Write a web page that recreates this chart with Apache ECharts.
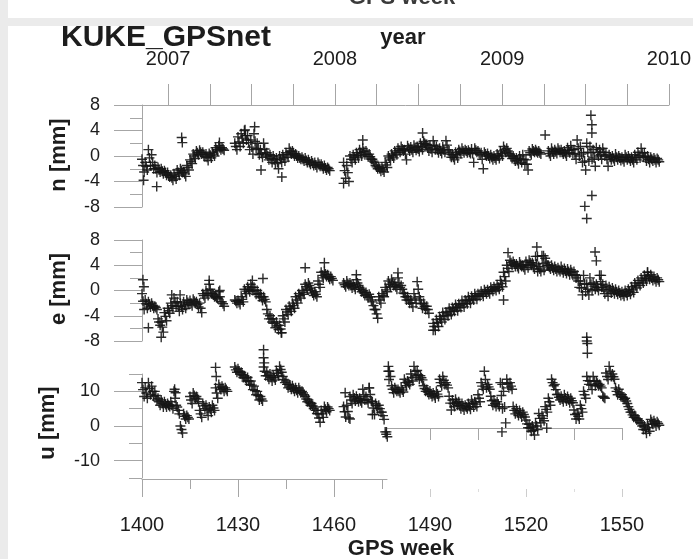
<!DOCTYPE html>
<html>
<head>
<meta charset="utf-8">
<script src="https://cdn.jsdelivr.net/npm/echarts@6/dist/echarts.min.js"></script>
<style>
  html, body { margin: 0; padding: 0; background: #ebebeb; }
  #chart { width: 693px; height: 559px; }
</style>
</head>
<body>
<div id="chart"></div>
<script>
// Station KUKE, GPSnet solution: coordinate residuals (mm), three samples per GPS week
const firstWeek = 1400;

// tick labels
const weekLabels = [1400, 1430, 1460, 1490, 1520, 1550];
const yearLabels = ['2007', '2008', '2009', '2010'];
const yearWeeks = [1408.14, 1460.29, 1512.57, 1564.71];   // GPS week at 1 January

// north component, week 1400 .. 1561 (first, middle and last sample of each week)
const nA = [
  -0.5,-1.0,1.0,0.2,-1.5,-1.8,-2.0,-2.3,-2.6,-3.0,
  -2.8,-2.2,-2.0,-2.5,-1.5,-0.6,0.3,0.8,0.9,0.6,
  0.3,0.4,0.6,1.3,1.6,1.3,null,null,null,2.0,
  3.0,3.5,4.0,3.2,2.5,3.5,2.0,1.0,2.0,0.5,
  0.2,0.0,-0.3,0.0,0.2,0.5,1.2,0.8,0.3,0.0,
  -0.2,-0.3,-0.6,-0.8,-1.0,-1.0,-1.3,-1.5,-1.8,null,
  null,null,null,-1.0,-1.5,0.0,0.2,0.5,1.0,1.2,
  0.8,0.3,-0.5,-1.5,-1.7,-1.8,-1.0,0.0,0.3,0.8,
  1.2,1.5,1.0,1.6,1.4,1.7,1.5,2.0,2.3,1.8,
  1.6,2.4,1.5,1.2,1.4,2.4,0.8,0.2,0.6,1.0,
  1.2,1.0,0.9,1.1,1.2,0.8,0.5,0.6,0.4,0.2,
  0.0,0.3,0.8,1.5,1.2,0.3,0.0,-0.3,0.0,0.2,
  -0.6,0.8,1.1,1.0,0.8,null,3.3,0.8,1.2,1.0,
  1.2,1.0,0.8,1.3,1.6,1.0,2.5,1.5,0.5,2.0,
  1.5,1.0,1.3,1.0,1.2,0.5,0.2,0.0,0.3,0.0,
  -0.2,0.2,0.0,-0.2,0.2,0.6,1.2,0.5,0.0,-0.2,
  -0.3,-0.4
];
const nC = [
  -1.5,-1.6,-0.3,-1.0,-2.0,-2.1,-2.4,-2.6,-3.0,-3.4,
  -3.2,-2.6,-2.3,-2.8,-1.8,-0.9,0.0,0.5,0.6,0.2,
  -0.2,0.1,0.3,1.0,1.3,1.1,null,null,null,1.5,
  2.2,2.8,3.2,2.1,1.4,2.3,1.1,0.4,1.1,0.0,
  -0.4,-0.6,-1.0,-0.5,-0.3,0.2,0.7,0.4,0.0,-0.3,
  -0.5,-0.7,-1.0,-1.1,-1.4,-1.3,-1.6,-1.9,-2.0,null,
  null,null,null,-2.3,-2.6,-0.5,-0.2,0.1,0.5,0.7,
  0.3,-0.1,-0.8,-1.7,-2.0,-2.2,-1.4,-0.3,0.0,0.5,
  0.9,1.1,0.3,1.2,1.0,1.3,1.1,1.5,2.0,1.3,
  1.1,1.7,1.0,0.8,1.0,1.7,0.3,-0.2,0.2,0.7,
  0.8,0.8,0.6,0.4,0.9,0.5,-0.5,0.3,0.0,-0.2,
  -0.3,0.0,0.4,1.0,0.8,0.0,-0.4,-0.7,-0.5,-0.5,
  -1.3,0.5,0.8,0.7,0.5,null,null,0.4,0.7,0.7,
  0.9,0.6,0.4,0.9,1.0,0.3,1.2,0.3,-0.8,0.6,
  0.5,-0.3,0.6,0.2,0.6,-0.5,-0.2,-0.4,-0.2,-0.3,
  -0.5,-0.2,-0.4,-0.6,-0.2,0.1,0.5,-0.1,-0.5,-0.5,
  -0.6,-0.6
];
const nB = [
  -2.5,-2.2,-1.5,-2.0,-2.6,-2.5,-2.8,-3.0,-3.3,-3.8,
  -3.6,-3.0,-2.6,-3.2,-2.2,-1.2,-0.4,0.2,0.3,-0.1,
  -0.7,-0.3,0.0,0.8,1.0,0.9,null,null,null,1.0,
  1.5,2.0,2.5,1.0,0.3,1.2,0.2,-0.2,0.3,-0.6,
  -1.0,-1.2,-2.0,-1.0,-0.8,-0.2,0.3,0.0,-0.3,-0.5,
  -0.8,-1.0,-1.3,-1.5,-1.8,-1.6,-2.0,-2.2,-2.3,null,
  null,null,null,-3.5,-4.0,-1.0,-0.6,-0.3,0.0,0.2,
  -0.1,-0.5,-1.0,-2.0,-2.4,-2.5,-1.8,-0.6,-0.3,0.2,
  0.6,0.8,-0.6,0.8,0.6,0.9,0.7,1.0,1.8,0.8,
  0.6,1.0,0.5,0.4,0.6,1.0,-0.2,-0.6,-0.3,0.4,
  0.5,0.5,0.4,-1.0,0.6,0.2,-2.0,0.0,-0.4,-0.6,
  -0.6,-0.4,0.0,0.6,0.4,-0.4,-0.8,-1.2,-1.0,-1.3,
  -2.2,0.2,0.6,0.5,0.3,null,null,0.0,0.3,0.4,
  0.6,0.3,0.0,0.5,0.4,-0.5,0.0,-1.0,-2.2,-0.8,
  -0.5,-1.6,0.0,-0.5,0.0,-1.6,-0.6,-0.8,-0.6,-0.7,
  -0.9,-0.6,-0.8,-1.0,-0.6,-0.3,-0.2,-0.8,-1.0,-0.8,
  -1.0,-0.9
];
const nExtra = [
  [1400.5,-3.8],[1404.6,-4.8],[1412.4,2.9],[1412.6,2.1],[1424.2,2.1],[1432.2,4.1],
  [1435.2,4.6],[1437.2,-2.2],[1443.7,-3.3],[1463,-4.3],[1469,2.5],[1487.7,3.6],
  [1540.3,6.4],[1540.6,4.9],[1540.6,3.6],[1538.4,-7.9],[1539,-9.8],[1540.6,-6.2]
];

// east component
const eA = [
  -0.5,-1.5,-1.8,-2.0,-2.5,-4.5,-5.0,-3.5,-2.8,-2.0,
  -1.2,-1.8,-2.0,-1.8,-1.5,-1.6,-1.4,-1.8,-2.0,-0.5,
  0.0,1.0,-0.5,-0.9,-0.2,-1.8,null,null,null,-1.5,
  -1.6,-1.0,0.2,0.6,1.0,0.5,0.0,-0.5,-1.0,-3.0,
  -4.0,-4.5,-5.0,-5.5,-4.0,-3.0,-2.5,-2.0,-1.0,-0.5,
  0.0,1.0,1.2,0.0,-0.2,1.5,2.9,3.0,2.5,2.2,
  null,null,null,1.2,1.5,1.2,1.0,1.7,0.5,0.0,
  -0.3,-0.6,-1.8,-3.0,-1.0,-0.5,0.5,1.5,1.8,1.0,
  2.0,0.8,-0.5,-1.0,-1.5,-0.5,1.4,-1.5,-2.0,-2.5,
  null,-5.2,-4.6,-4.1,-3.5,-3.4,-2.8,-2.7,-2.2,-2.1,
  -1.6,-1.5,-1.0,-0.9,-0.5,-0.5,-0.1,0.1,0.1,0.5,
  0.6,0.9,1.6,2.9,4.0,4.8,4.6,4.2,4.5,4.0,
  4.6,4.8,4.4,5.4,3.8,5.5,5.1,4.0,4.0,3.8,
  3.6,3.8,3.5,3.4,3.3,3.0,2.4,1.5,2.4,1.0,
  2.0,1.2,1.0,2.4,1.0,0.8,0.6,0.4,0.2,0.0,
  -0.2,0.0,0.2,0.6,1.2,1.6,2.0,2.4,2.9,2.5,
  2.2,2.0
];
const eC = [
  -1.7,-2.1,-2.2,-2.4,-2.7,-5.0,-5.8,-4.1,-3.2,-2.4,
  -1.8,-2.5,-2.5,-2.3,-1.9,-2.0,-1.7,-2.2,-2.8,-0.8,
  -0.4,0.2,-0.7,-1.1,-1.0,-2.1,null,null,null,-1.7,
  -1.9,-1.4,-0.1,0.2,0.5,0.0,-0.5,-1.0,-1.4,-3.7,
  -4.5,-5.2,-5.6,-6.1,-4.5,-3.4,-2.9,-2.4,-1.5,-0.8,
  -0.3,0.6,0.8,-0.4,-0.6,1.0,2.4,2.6,2.1,1.9,
  null,null,null,0.9,1.1,0.8,0.6,1.2,0.2,-0.4,
  -0.7,-1.0,-2.4,-3.7,-1.5,-0.8,0.1,1.0,1.3,0.6,
  1.2,0.2,-1.0,-1.5,-2.0,-1.2,0.2,-2.1,-2.5,-3.0,
  null,-5.7,-5.1,-4.5,-4.0,-3.7,-3.3,-3.0,-2.7,-2.4,
  -2.1,-1.8,-1.5,-1.2,-0.9,-0.7,-0.5,-0.2,-0.2,0.2,
  0.3,0.5,1.1,2.2,3.5,4.4,4.2,3.8,4.1,3.7,
  4.1,4.4,3.9,4.2,3.4,4.3,4.5,3.7,3.6,3.4,
  3.3,3.3,3.1,3.0,2.9,2.5,1.5,0.4,1.1,0.2,
  1.0,0.7,0.5,1.4,0.2,-0.1,0.1,0.0,-0.2,-0.4,
  -0.6,-0.4,-0.2,0.1,0.8,1.2,1.6,1.9,2.3,2.0,
  1.8,1.7
];
const eB = [
  -3.0,-2.8,-2.6,-2.8,-3.0,-5.5,-6.6,-4.8,-3.6,-2.8,
  -2.5,-3.3,-3.0,-2.8,-2.2,-2.4,-2.0,-2.6,-3.5,-1.2,
  -0.8,-0.5,-1.0,-1.3,-1.8,-2.5,null,null,null,-2.0,
  -2.2,-1.8,-0.5,-0.2,0.0,-0.6,-1.0,-1.6,-1.8,-4.5,
  -5.0,-5.9,-6.2,-6.7,-5.0,-3.8,-3.3,-2.8,-2.0,-1.2,
  -0.6,0.2,0.4,-0.8,-1.0,0.5,2.0,2.2,1.8,1.6,
  null,null,null,0.6,0.8,0.4,0.2,0.8,-0.2,-0.8,
  -1.1,-1.5,-3.0,-4.4,-2.0,-1.0,-0.2,0.6,0.8,0.2,
  0.5,-0.4,-1.5,-2.0,-2.6,-2.0,-1.0,-2.8,-3.0,-3.6,
  null,-6.3,-5.7,-5.0,-4.6,-4.0,-3.8,-3.3,-3.2,-2.7,
  -2.6,-2.1,-2.0,-1.5,-1.4,-0.9,-0.9,-0.5,-0.5,-0.1,
  0.0,0.2,0.6,1.5,3.0,4.0,3.8,3.5,3.8,3.3,
  3.6,4.0,3.4,3.0,3.0,3.2,4.0,3.4,3.2,3.0,
  3.0,2.8,2.7,2.5,2.4,2.0,0.5,-0.7,-0.2,-0.7,
  0.0,0.2,0.0,0.5,-0.5,-0.9,-0.4,-0.5,-0.6,-0.8,
  -0.9,-0.8,-0.6,-0.3,0.4,0.8,1.2,1.5,1.8,1.6,
  1.4,1.4
];
const eExtra = [
  [1400.3,1.7],[1400.6,0.6],[1402,-5.9],[1406,-7.4],[1409.3,-0.7],[1411.9,-0.7],
  [1421,1.6],[1424.3,0.0],[1434.5,1.6],[1437.8,1.9],[1443.5,-6.7],[1451,3.6],
  [1457,4.4],[1467,2.5],[1480,2.8],[1491,-6.3],[1513,-1.5],[1514.4,6.0],
  [1523.4,6.9],[1523.6,5.4],[1525.5,5.5],[1541.6,6.1],[1542,4.7],[1543.5,2.4],
  [1539,-7.4],[1539.2,-8.4],[1558,2.9]
];

// up component
const uA = [
  12.5,11.0,12.5,11.5,10.0,8.0,7.5,7.0,6.5,7.0,
  10.0,5.5,0.0,3.5,3.0,8.5,9.5,8.5,4.5,6.5,
  6.0,5.5,6.0,11.0,12.0,11.5,11.0,null,null,17.0,
  16.5,15.5,14.5,14.0,13.0,11.5,10.0,8.5,17.0,15.5,
  15.0,14.5,16.0,17.2,14.3,13.0,12.0,11.6,11.0,11.0,
  10.0,8.6,7.5,6.5,5.5,3.5,4.5,5.6,5.5,null,
  null,null,null,5.6,6.0,8.5,9.0,8.6,8.0,10.6,
  8.5,11.0,7.0,6.5,6.0,4.0,-1.7,17.2,11.6,11.0,
  10.5,11.0,13.5,13.0,15.0,17.2,16.0,14.5,11.6,10.5,
  10.1,9.5,10.0,13.5,14.3,12.5,8.6,7.5,7.7,7.0,
  6.5,6.0,6.5,7.5,7.0,9.0,12.5,15.8,12.0,8.6,
  7.5,7.0,12.5,10.0,13.5,12.5,5.6,5.0,4.5,4.0,
  1.7,0.5,0.0,0.9,3.6,3.0,5.6,8.0,13.5,12.0,
  9.1,8.6,9.0,8.5,8.0,4.6,3.6,6.0,10.0,14.3,
  13.0,14.3,13.0,12.0,8.6,15.3,17.2,15.0,11.0,10.6,
  9.0,8.0,5.6,4.0,3.0,2.0,0.9,0.0,0.5,1.9,
  1.5,1.2
];
const uC = [
  10.5,9.5,10.8,10.0,8.8,7.0,6.5,6.2,6.0,6.0,
  8.0,4.5,-1.0,2.8,2.5,7.5,8.8,7.8,3.5,5.8,
  4.5,4.8,5.2,9.5,11.2,10.8,10.5,null,null,16.2,
  15.8,14.8,13.8,13.0,11.8,10.2,8.8,7.8,15.8,14.5,
  14.0,13.9,15.2,16.3,13.4,12.0,11.3,10.8,10.3,10.3,
  9.5,7.8,6.8,5.8,4.5,2.3,3.5,4.8,5.0,null,
  null,null,null,4.1,4.2,7.5,8.1,7.8,7.3,9.0,
  7.6,9.1,5.2,5.8,5.0,3.0,-2.4,15.8,10.6,10.5,
  10.0,10.4,12.5,12.5,14.0,15.8,14.8,13.9,10.8,9.8,
  9.3,8.8,9.2,12.5,13.2,11.8,6.6,6.5,6.8,6.0,
  5.5,5.5,5.6,6.5,6.3,8.0,11.5,13.4,11.3,7.3,
  6.5,6.3,8.8,5.5,12.2,11.5,4.5,4.0,3.5,3.3,
  0.6,-0.5,-1.3,0.0,2.2,2.2,4.8,7.0,12.5,10.5,
  8.3,7.8,8.1,7.6,7.3,3.3,2.8,5.0,9.0,13.1,
  11.8,13.0,12.3,11.5,8.3,14.3,15.8,14.2,10.0,9.5,
  8.3,7.2,4.8,3.2,2.3,1.5,0.0,-1.0,-0.5,1.2,
  0.8,0.7
];
const uB = [
  8.5,8.0,9.0,8.5,7.5,6.0,5.5,5.5,5.6,5.0,
  6.0,3.5,-2.0,2.0,2.0,6.5,8.0,7.0,2.5,5.0,
  3.0,4.0,4.5,8.0,10.5,10.0,10.0,null,null,15.5,
  15.0,14.0,13.0,12.0,10.5,9.0,7.5,7.2,14.5,13.5,
  13.0,13.3,14.5,15.5,12.5,11.0,10.6,10.0,9.6,9.6,
  9.0,7.0,6.0,5.0,3.6,1.1,2.5,4.1,4.5,null,
  null,null,null,2.6,2.3,6.5,7.2,7.0,6.7,7.5,
  6.7,7.2,3.3,5.0,4.0,1.9,-3.1,14.3,9.6,10.0,
  9.6,9.8,11.6,12.0,13.0,14.5,13.5,13.3,10.0,9.1,
  8.5,8.1,8.5,11.6,12.0,11.0,4.6,5.6,6.0,5.0,
  4.6,5.0,4.8,5.5,5.6,7.0,10.6,11.0,10.6,6.0,
  5.6,5.6,5.0,0.9,11.0,10.6,3.5,3.0,2.6,2.6,
  -0.5,-1.5,-2.6,-1.0,0.9,1.5,4.0,6.0,11.6,9.1,
  7.5,7.0,7.2,6.7,6.7,2.0,2.0,4.0,8.0,12.0,
  10.5,11.6,11.6,11.0,8.0,13.4,14.3,13.5,9.0,8.5,
  7.7,6.5,4.0,2.5,1.7,0.9,-1.0,-2.1,-1.5,0.5,
  0.0,0.2
];
const uExtra = [
  [1410.2,10.6],[1410.5,9.6],[1423,16.9],[1423.2,14.3],[1438,22.0],[1438,19.7],
  [1438.2,18.2],[1463.5,9.6],[1465,2.0],[1471,11.0],[1472,3.3],[1476.4,-1.7],
  [1477,15.8],[1477.2,13.4],[1512.5,-1.7],[1512.6,12.0],[1526.5,-0.6],
  [1539,24.5],[1539.2,21.0]
];

// ---- helpers -------------------------------------------------------------
function toPoints(valsA, valsC, valsB, extra) {
  const pts = [];
  valsA.forEach((v, i) => { if (v !== null) pts.push([firstWeek + i, v]); });
  valsC.forEach((v, i) => { if (v !== null) pts.push([firstWeek + i + 0.33, v]); });
  valsB.forEach((v, i) => { if (v !== null) pts.push([firstWeek + i + 0.67, v]); });
  return pts.concat(extra);
}
// quarter-year tick positions along the year axis
const quarterWeeks = [];
for (let i = 0; i < yearWeeks.length - 1; i++) {
  const a = yearWeeks[i], b = yearWeeks[i + 1];
  for (let k = 0; k < 4; k++) quarterWeeks.push(a + k * (b - a) / 4);
}
quarterWeeks.push(yearWeeks[yearWeeks.length - 1]);

const FONT = '"Liberation Sans", Arial, Helvetica, sans-serif';
const GREY = '#a6a6a6';
const INK = '#1d1d1d';
const X_MIN = firstWeek;
const X_MAX = yearWeeks[yearWeeks.length - 1];
const PLUS = 'path://M5,0L5,10M0,5L10,5';

function grid(g) { return Object.assign({ containLabel: false, outerBoundsMode: 'none' }, g); }
function hiddenX(gi) { return { type: 'value', gridIndex: gi, min: X_MIN, max: X_MAX, show: false }; }
function hiddenY(gi) { return { type: 'value', gridIndex: gi, min: 0, max: 1, show: false }; }
function tickAxis(gi, min, max, ticks, len, color, showLine) {
  return {
    type: 'value', gridIndex: gi, position: 'bottom', min: min, max: max,
    axisLine: { show: showLine, lineStyle: { color: GREY, width: 1 } },
    axisTick: { show: true, inside: false, length: len, customValues: ticks, lineStyle: { color: color, width: 1 } },
    axisLabel: { show: false }, splitLine: { show: false }
  };
}
function mmAxis(gi, min, max, step) {
  return {
    type: 'value', gridIndex: gi, position: 'left', min: min, max: max, interval: step,
    axisLine: { show: true, lineStyle: { color: GREY, width: 1 } },
    axisTick: { show: true, inside: false, length: 28, lineStyle: { color: GREY, width: 1 } },
    minorTick: { show: true, splitNumber: 2, length: 12, lineStyle: { color: GREY, width: 1 } },
    axisLabel: { margin: 42, fontSize: 18, color: INK, fontFamily: FONT },
    splitLine: { show: false }, minorSplitLine: { show: false }
  };
}
function plusSeries(xi, yi, data) {
  return {
    type: 'scatter', xAxisIndex: xi, yAxisIndex: yi, data: data, clip: false,
    symbol: PLUS, symbolSize: 10, silent: true,
    itemStyle: { color: 'none', borderColor: '#151515', borderWidth: 1.4, opacity: 0.9 }
  };
}
function label(text, x, y, size, rot, fill) {
  return {
    type: 'text', x: x, y: y, rotation: rot || 0, silent: true, z: 10,
    style: { text: text, fill: fill || INK, font: 'bold ' + size + 'px ' + FONT, align: 'center', verticalAlign: 'middle' }
  };
}

const chart = echarts.init(document.getElementById('chart'), null, { renderer: 'canvas' });
chart.setOption({
  animation: false,
  backgroundColor: '#ebebeb',
  grid: [
    grid({ left: 142, right: 24, top: 105, height: 102 }),   // 0: n
    grid({ left: 142, right: 24, top: 240, height: 101 }),   // 1: e
    grid({ left: 142, right: 24, top: 374, height: 104 }),   // 2: u
    grid({ left: 387, width: 235, top: 374, height: 54 }),   // 3: inner time line of the u panel
    grid({ left: 142, width: 245, top: 374, height: 105 }),  // 4: lower time axis, first part
    grid({ left: 142, right: 24, top: 374, height: 115 }),   // 5: faint ticks, second part
    grid({ left: 142, right: 24, top: 374, height: 104 })    // 6: long ticks of the u scale
  ],
  xAxis: [
    hiddenX(0),
    {
      type: 'value', gridIndex: 0, position: 'top', min: X_MIN, max: X_MAX,
      axisLine: { show: true, lineStyle: { color: GREY, width: 1 } },
      axisTick: { show: true, inside: false, length: 21, customValues: quarterWeeks, lineStyle: { color: GREY, width: 1 } },
      axisLabel: {
        show: true, customValues: yearWeeks, margin: 36, fontSize: 20, color: INK, fontFamily: FONT,
        formatter: function (v) {
          let best = 0;
          yearWeeks.forEach((w, i) => { if (Math.abs(w - v) < Math.abs(yearWeeks[best] - v)) best = i; });
          return yearLabels[best];
        }
      },
      splitLine: { show: false }
    },
    hiddenX(1),
    {
      type: 'value', gridIndex: 2, position: 'bottom', min: X_MIN, max: X_MAX,
      axisLine: { show: false }, axisTick: { show: false },
      axisLabel: {
        show: true, customValues: weekLabels, margin: 37, fontSize: 20, color: INK, fontFamily: FONT,
        formatter: function (v) { return String(Math.round(v)); }
      },
      splitLine: { show: false }
    },
    tickAxis(3, 1476.5, 1550, [1490, 1505, 1520, 1535, 1550], 12, GREY, true),
    tickAxis(4, 1400, 1476.5, [1400, 1430, 1460], 18, GREY, true),
    tickAxis(4, 1400, 1476.5, [1415, 1445, 1475], 10, GREY, false),
    tickAxis(5, X_MIN, X_MAX, [1490, 1520, 1550], 8, '#cdcdcd', false),
    tickAxis(5, X_MIN, X_MAX, [1505, 1535], 3, '#dddddd', false),
    hiddenX(6)
  ],
  yAxis: [
    mmAxis(0, -8, 8, 4),
    mmAxis(1, -8, 8, 4),
    {
      // short ticks every 5 mm, labels every 10 mm
      type: 'value', gridIndex: 2, position: 'left', min: -15, max: 15, interval: 5,
      axisLine: { show: true, lineStyle: { color: GREY, width: 1 } },
      axisTick: { show: true, inside: false, length: 13, lineStyle: { color: GREY, width: 1 } },
      axisLabel: { customValues: [-10, 0, 10], margin: 42, fontSize: 18, color: INK, fontFamily: FONT },
      splitLine: { show: false }
    },
    hiddenY(3), hiddenY(4), hiddenY(5),
    {
      type: 'value', gridIndex: 6, position: 'left', min: -15, max: 15, interval: 5,
      axisLine: { show: false },
      axisTick: { show: true, inside: false, length: 28, customValues: [-10, 0, 10], lineStyle: { color: GREY, width: 1 } },
      axisLabel: { show: false }, splitLine: { show: false }
    }
  ],
  series: [
    plusSeries(0, 0, toPoints(nA, nC, nB, nExtra)),
    plusSeries(2, 1, toPoints(eA, eC, eB, eExtra)),
    plusSeries(3, 2, toPoints(uA, uC, uB, uExtra))
  ],
  graphic: [
    { type: 'rect', z: -10, silent: true, shape: { x: 8, y: 0, width: 685, height: 18 }, style: { fill: '#ffffff' } },
    { type: 'rect', z: -10, silent: true, shape: { x: 8, y: 26, width: 685, height: 533 }, style: { fill: '#ffffff' } },
    label('GPS week', 402, -2, 22, 0, '#3a3a3a'),
    label('KUKE_GPSnet', 166, 38, 30),
    label('year', 403, 38, 22),
    label('n [mm]', 59, 155, 22, Math.PI / 2),
    label('e [mm]', 59, 289, 22, Math.PI / 2),
    label('u [mm]', 48, 423, 22, Math.PI / 2),
    label('GPS week', 401, 549, 22)
  ]
});
</script>
</body>
</html>
